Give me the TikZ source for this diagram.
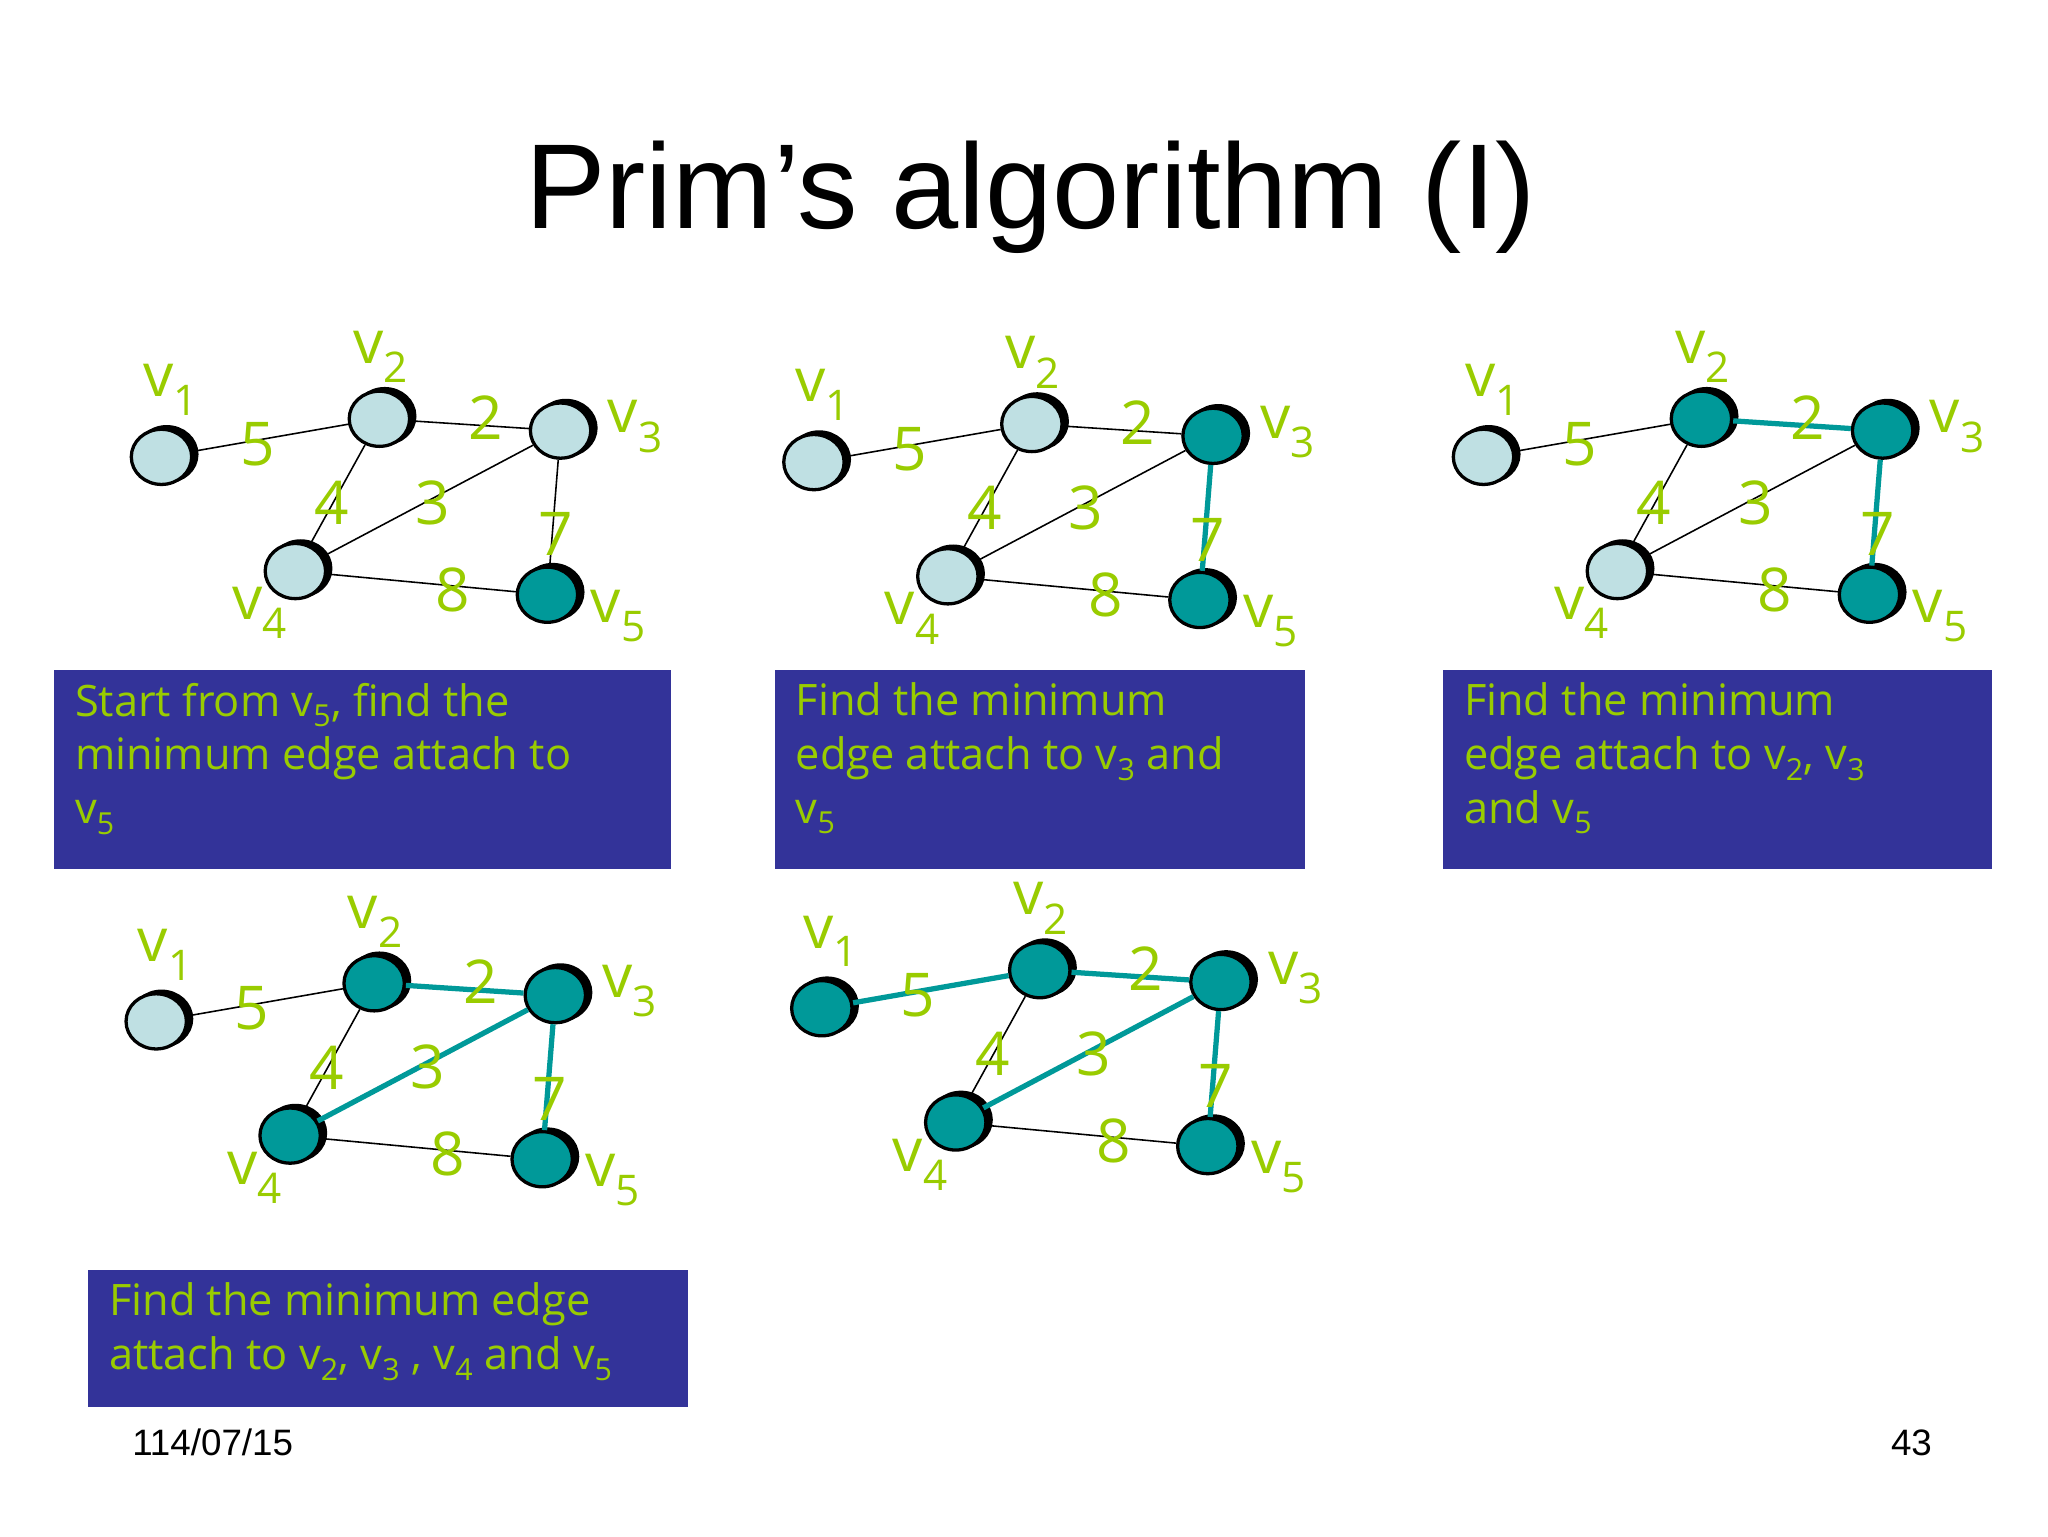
\documentclass[tikz,border=0pt]{standalone}
\usepackage{fontspec}
\setmainfont{Open Sans}
\newfontfamily\arialf{Liberation Sans}
\usetikzlibrary{shapes.geometric}
\definecolor{tl}{HTML}{009999}
\definecolor{lt}{HTML}{BFE0E3}
\definecolor{gr}{HTML}{99CC00}
\definecolor{bx}{HTML}{333399}
\tikzset{x=1pt,y=-1pt,
 vx/.style={ellipse,draw=black,line width=2.5pt,minimum width=46pt,minimum height=42pt,inner sep=0pt},
 ltn/.style={vx,fill=lt},
 dkn/.style={vx,fill=tl},
 shd/.style={ellipse,draw=black,line width=2.5pt,minimum width=46pt,minimum height=42pt,inner sep=0pt,fill=black},
 s1/.style={ltn},s2/.style={ltn},s3/.style={ltn},s4/.style={ltn},s5/.style={ltn},
 thin/.style={draw=black,line width=1.2pt},
 tk/.style={draw=tl,line width=4pt},
 e12/.style={thin},e23/.style={thin},e24/.style={thin},e34/.style={thin},e35/.style={thin},e45/.style={thin},
 lab/.style={text=gr,font=\fontsize{46}{46}\selectfont,inner sep=0pt},
 box/.style={fill=bx,text=gr,anchor=north west,align=left,inner sep=0pt,font=\fontsize{33}{41}\selectfont},
}
\newcommand\drawG[1]{%
 \path (123,348) coordinate (#1c1) (289,319) coordinate (#1c2) (427,328) coordinate (#1c3) (225,435) coordinate (#1c4) (417,453) coordinate (#1c5);
 \foreach \i in {1,...,5}{\node[shd] at ($(#1c\i)+(4,-2)$) {};}
 \foreach \i in {1,...,5}{\node[s\i] (#1n\i) at (#1c\i) {};}
 \draw[e12] (#1n1) -- (#1n2); \draw[e23] (#1n2) -- (#1n3); \draw[e24] (#1n2) -- (#1n4);
 \draw[e34] (#1n3) -- (#1n4); \draw[e35] (#1n3) -- (#1n5); \draw[e45] (#1n4) -- (#1n5);
 \node[lab] (#1l1) at (130,297) {v\textsubscript{1}};
 \node[lab] (#1l2) at (290,272) {v\textsubscript{2}};
 \node[lab] (#1l3) at (484,325) {v\textsubscript{3}};
 \node[lab] (#1l4) at (198,467) {v\textsubscript{4}};
 \node[lab] (#1l5) at (471,469) {v\textsubscript{5}};
 \node[lab] (#1w5) at (196,338) {5};
 \node[lab] (#1w2) at (370,318) {2};
 \node[lab] (#1w4) at (253,383) {4};
 \node[lab] (#1w3) at (330,383) {3};
 \node[lab] (#1w7) at (423,407) {7};
 \node[lab] (#1w8) at (345,449) {8};
}
\usetikzlibrary{calc}
\begin{document}
\begin{tikzpicture}
\useasboundingbox (0,0) rectangle (1560,1170);
\fill[white] (0,0) rectangle (1560,1170);
\node[font=\arialf\fontsize{92}{92}\selectfont] (title) at (785,150) {Prim’s algorithm (I)};
\begin{scope}[s5/.style={dkn},e35/.style={thin}]
\drawG{a}
\end{scope}
\begin{scope}[shift={(497,4)},s3/.style={dkn},s5/.style={dkn},e35/.style={tk}]
\drawG{b}
\end{scope}
\begin{scope}[shift={(1007,0)},s2/.style={dkn},s3/.style={dkn},s5/.style={dkn},e35/.style={tk},e23/.style={tk}]
\drawG{c}
\end{scope}
\begin{scope}[shift={(-4,430)},s2/.style={dkn},s3/.style={dkn},s4/.style={dkn},s5/.style={dkn},e35/.style={tk},e23/.style={tk},e34/.style={tk}]
\drawG{d}
\end{scope}
\begin{scope}[shift={(503,420)},s1/.style={dkn},s2/.style={dkn},s3/.style={dkn},s4/.style={dkn},s5/.style={dkn},e35/.style={tk},e23/.style={tk},e34/.style={tk},e12/.style={tk}]
\drawG{e}
\end{scope}
\fill[bx] (41,510) rectangle (511,662);
\fill[bx] (590,510) rectangle (994,662);
\fill[bx] (1099,510) rectangle (1517,662);
\fill[bx] (67,967) rectangle (524,1072);
\node[box,fill=none] (t1) at (57,520) {Start from v\textsubscript{5}, find the\\minimum edge attach to\\v\textsubscript{5}};
\node[box,fill=none] (t2) at (606,520) {Find the minimum\\edge attach to v\textsubscript{3} and\\v\textsubscript{5}};
\node[box,fill=none] (t3) at (1115,520) {Find the minimum\\edge attach to v\textsubscript{2}, v\textsubscript{3}\\and v\textsubscript{5}};
\node[box,fill=none] (t4) at (83,977) {Find the minimum edge\\attach to v\textsubscript{2}, v\textsubscript{3} , v\textsubscript{4} and v\textsubscript{5}};
\node[font=\arialf\fontsize{28}{28}\selectfont] (date) at (162,1099) {114/07/15};
\node[font=\arialf\fontsize{28}{28}\selectfont] (pg) at (1456,1099) {43};
\end{tikzpicture}
\end{document}
